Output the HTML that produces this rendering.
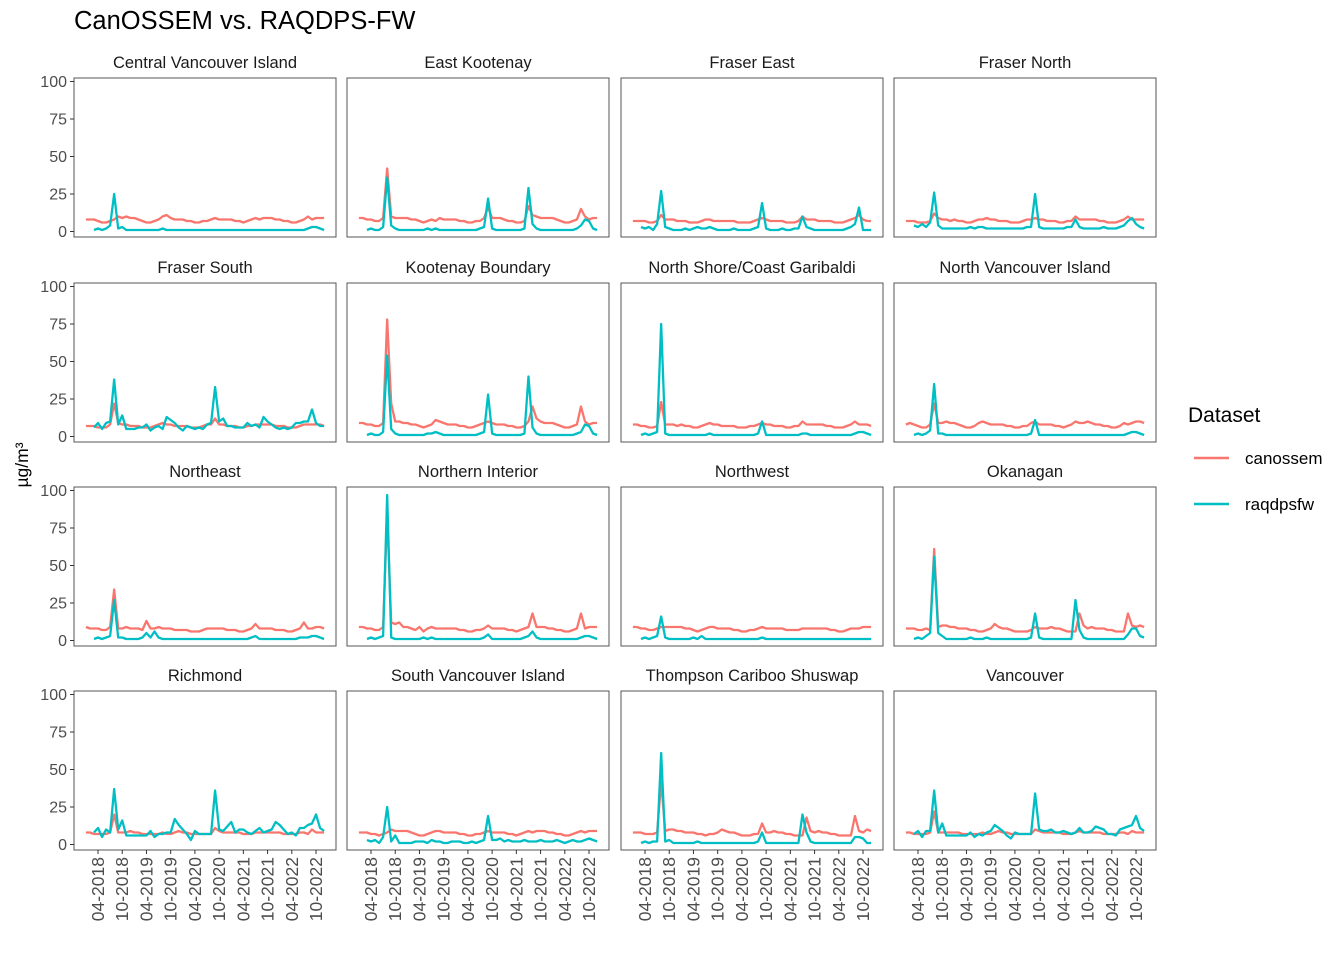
<!DOCTYPE html>
<html><head><meta charset="utf-8">
<style>
html,body{margin:0;padding:0;background:#fff;}
svg{display:block;font-family:"Liberation Sans",Arial,sans-serif;}
</style></head>
<body>
<svg id="chart" width="1344" height="960" viewBox="0 0 1344 960" xmlns="http://www.w3.org/2000/svg">
<rect x="0" y="0" width="1344" height="960" fill="#fff"/>
<text x="74" y="29" font-size="25.5" fill="#000">CanOSSEM vs. RAQDPS-FW</text>
<text transform="translate(28,465) rotate(-90)" text-anchor="middle" font-size="17.5" fill="#000">µg/m³</text>
<g>
<text x="1188" y="422" font-size="21" fill="#000">Dataset</text>
<g><line x1="1194" y1="458" x2="1229" y2="458" stroke="#F8766D" stroke-width="2.4"/><text x="1245" y="464" font-size="17" fill="#000">canossem</text></g>
<g><line x1="1194" y1="504" x2="1229" y2="504" stroke="#00BFC4" stroke-width="2.4"/><text x="1245" y="510" font-size="17" fill="#000">raqdpsfw</text></g>
</g>
<g id="panels"></g>
</svg>
<script>
const regions = ["Central Vancouver Island","East Kootenay","Fraser East","Fraser North","Fraser South","Kootenay Boundary","North Shore/Coast Garibaldi","North Vancouver Island","Northeast","Northern Interior","Northwest","Okanagan","Richmond","South Vancouver Island","Thompson Cariboo Shuswap","Vancouver"];
const yTicks = [0,25,50,75,100];
const xTickIndex = [3,9,15,21,27,33,39,45,51,57];
const xTickLabels = ["04-2018","10-2018","04-2019","10-2019","04-2020","10-2020","04-2021","10-2021","04-2022","10-2022"];
const N = 60;
const canossem = [
[8,8,8,7,6,6,7,8,10,9,10,9, 9,8,7,6,6,7,8,10,11,9,8,8, 8,7,7,6,6,7,7,8,9,8,8,8, 8,7,7,6,7,8,9,8,9,9,9,8, 8,7,7,6,6,7,8,10,8,9,9,9],
[9,9,8,8,7,7,9,42,10,9,9,9, 9,8,8,7,6,7,8,7,9,8,8,8, 8,7,7,6,6,7,7,9,16,9,9,9, 8,7,7,6,6,7,17,11,10,9,9,9, 9,8,7,6,6,7,8,15,10,8,9,9],
[7,7,7,7,6,6,7,11,8,8,8,7, 7,7,6,6,6,7,8,8,7,7,7,7, 7,7,6,6,6,6,7,8,9,8,7,7, 7,7,6,6,6,7,10,8,8,8,7,7, 7,7,6,6,6,7,8,9,11,8,7,7],
[7,7,7,6,6,6,7,12,9,8,8,7, 8,7,7,6,6,7,8,8,9,8,8,7, 7,7,6,6,6,7,8,8,9,8,8,7, 7,7,6,6,7,7,10,8,8,8,8,8, 7,7,6,6,6,7,8,10,8,8,8,8],
[7,7,7,6,6,6,8,22,9,8,8,7, 7,7,6,6,6,7,8,9,8,8,7,7, 7,7,6,6,6,7,8,8,12,8,8,7, 7,7,6,6,7,7,8,8,8,8,8,7, 7,7,6,6,6,7,8,8,8,8,8,7],
[9,9,8,8,7,7,9,78,22,10,10,9, 9,8,8,7,6,7,8,11,10,9,8,8, 8,7,7,6,6,7,8,9,10,9,8,8, 8,7,7,6,6,7,10,20,12,10,9,9, 9,8,7,6,6,7,8,20,10,8,9,9],
[8,8,7,7,6,6,7,23,8,8,8,7, 8,7,7,6,6,7,8,9,8,8,7,7, 7,7,6,6,6,7,7,8,9,8,8,7, 7,7,6,6,7,7,10,8,8,8,8,8, 7,7,6,6,6,7,8,10,8,8,8,7],
[8,9,8,7,6,6,8,22,9,9,10,9, 9,8,7,6,6,7,9,10,9,8,8,8, 8,7,7,6,6,7,7,9,10,8,8,8, 8,7,7,6,7,8,10,9,9,10,9,8, 8,7,7,6,6,7,9,8,9,10,10,9],
[9,8,8,8,7,7,9,34,8,8,9,8, 8,8,7,13,8,8,9,8,8,8,7,7, 7,7,6,6,6,7,8,8,8,8,8,7, 7,7,6,6,7,8,11,8,8,8,8,7, 7,7,6,6,7,8,12,8,8,9,9,8],
[9,9,8,8,7,7,9,85,12,11,12,9, 9,8,7,9,6,8,9,8,8,8,8,8, 8,7,7,6,6,7,7,8,10,8,8,8, 8,7,7,6,7,8,9,18,9,9,9,8, 8,7,7,6,6,7,8,18,8,9,9,9],
[9,9,8,8,7,7,8,9,9,9,9,9, 9,8,8,7,6,7,8,9,9,8,8,8, 8,7,7,6,6,7,7,8,9,8,8,8, 8,8,7,7,7,7,8,8,8,8,8,8, 8,7,7,6,6,7,8,8,8,9,9,9],
[8,8,8,7,7,8,7,61,9,10,10,9, 9,8,8,8,7,7,6,6,7,8,11,9, 8,8,7,6,6,6,6,7,9,8,8,8, 9,8,8,7,6,6,6,18,10,8,9,8, 8,8,7,7,6,6,6,18,10,9,10,9],
[8,8,7,7,7,7,8,20,8,8,8,9, 8,8,7,7,7,7,7,8,7,7,8,9, 8,8,7,7,7,7,7,7,11,9,8,8, 8,8,8,7,7,7,8,8,8,8,8,8, 8,7,7,7,7,8,8,7,10,8,8,8],
[8,8,8,7,7,6,7,8,10,9,9,9, 9,8,7,6,6,7,8,9,9,8,8,8, 8,7,7,6,6,7,7,8,9,8,8,8, 8,7,7,6,7,8,9,8,9,9,9,8, 8,7,7,6,6,7,8,9,8,9,9,9],
[8,8,8,7,7,7,8,42,9,10,10,9, 9,8,8,8,7,7,6,7,7,8,10,9, 8,8,7,6,6,6,7,7,14,8,8,9, 8,8,7,7,6,6,6,18,9,8,9,8, 8,7,7,6,6,6,6,19,9,8,10,9],
[8,8,7,7,7,7,8,22,8,8,8,8, 8,8,7,7,7,7,7,8,7,7,8,9, 8,8,7,7,7,7,7,7,10,9,8,8, 8,8,8,7,7,7,8,9,8,8,8,8, 8,7,7,7,7,8,8,7,9,8,8,8]
];
const raqdpsfw = [
[null,null,1,2,1,2,4,25,2,3,1,1, 1,1,1,1,1,1,1,2,1,1,1,1, 1,1,1,1,1,1,1,1,1,1,1,1, 1,1,1,1,1,1,1,1,1,1,1,1, 1,1,1,1,1,1,1,2,3,3,2,1],
[null,null,1,2,1,1,3,36,4,2,1,1, 1,1,1,1,1,2,1,2,1,1,1,1, 1,1,1,1,1,1,2,3,22,2,1,1, 1,1,1,1,1,2,29,5,2,1,1,1, 1,1,1,1,1,1,2,4,8,7,2,1],
[null,null,3,2,3,1,5,27,3,2,1,1, 1,2,1,2,3,2,2,3,2,1,1,1, 1,2,1,1,1,1,2,3,19,2,1,1, 1,2,1,1,2,2,10,3,2,1,1,1, 1,1,1,1,1,2,3,5,16,1,1,1],
[null,null,4,3,5,3,6,26,4,2,2,2, 2,2,2,2,3,2,3,3,2,2,2,2, 2,2,2,2,2,2,3,3,25,3,2,2, 2,2,2,2,3,3,8,3,2,2,2,2, 2,3,2,2,2,3,4,7,9,5,3,2],
[null,null,6,9,5,9,10,38,8,14,5,5, 5,6,6,8,4,6,7,5,13,11,9,6, 4,7,6,5,6,5,8,9,33,10,12,7, 7,6,6,6,9,7,8,6,13,10,8,6, 5,6,5,6,9,9,10,10,18,9,7,7],
[null,null,1,2,1,1,3,54,5,2,1,1, 1,1,1,1,1,2,2,3,2,1,1,1, 1,1,1,1,1,1,2,3,28,2,1,1, 1,1,1,1,1,2,40,6,2,1,1,1, 1,1,1,1,1,1,2,3,8,7,2,1],
[null,null,1,2,1,2,3,75,2,1,1,1, 1,1,1,1,1,1,1,2,1,1,1,1, 1,1,1,1,1,1,1,2,10,1,1,1, 1,1,1,1,1,1,2,2,1,1,1,1, 1,1,1,1,1,1,1,2,3,3,2,1],
[null,null,1,2,1,2,4,35,2,2,1,1, 1,1,1,1,1,1,1,1,1,1,1,1, 1,1,1,1,1,1,1,2,11,1,1,1, 1,1,1,1,1,1,1,1,1,1,1,1, 1,1,1,1,1,1,1,2,3,3,2,1],
[null,null,1,2,1,2,3,27,2,2,1,1, 1,1,2,5,2,6,2,1,1,1,1,1, 1,1,1,1,1,1,1,1,1,1,1,1, 1,1,1,1,1,2,3,1,1,1,1,1, 1,1,1,1,1,2,2,2,3,3,2,1],
[null,null,1,2,1,2,3,97,2,1,1,1, 1,1,1,1,2,1,2,1,1,1,1,1, 1,1,1,1,1,1,1,2,4,1,1,1, 1,1,1,1,1,2,3,6,2,1,1,1, 1,1,1,1,1,1,1,2,3,3,2,1],
[null,null,1,2,1,2,3,16,2,1,1,1, 1,1,1,2,1,3,1,1,1,1,1,1, 1,1,1,1,1,1,1,1,2,1,1,1, 1,1,1,1,1,1,1,1,1,1,1,1, 1,1,1,1,1,1,1,1,1,1,1,1],
[null,null,1,2,1,3,5,56,5,3,1,1, 1,1,1,1,2,1,1,1,2,1,1,1, 1,1,1,1,1,1,1,2,18,2,1,1, 1,1,1,1,1,1,27,7,2,1,1,1, 1,1,1,1,1,1,1,4,8,8,3,2],
[null,null,8,11,5,10,8,37,10,16,6,6, 6,6,6,6,9,5,7,7,8,8,17,13, 10,7,3,9,7,7,7,7,36,10,9,12, 15,8,10,10,8,7,9,11,8,9,10,15, 13,10,7,8,6,11,11,13,14,20,11,9],
[null,null,3,2,3,1,5,25,2,6,1,1, 1,1,2,2,2,1,3,2,2,1,1,2, 2,2,1,1,2,1,2,3,19,3,3,4, 2,3,2,2,2,3,2,2,2,3,2,2, 2,3,2,1,2,3,2,2,3,4,3,2],
[null,null,1,2,1,2,2,61,2,3,1,1, 1,1,1,1,2,1,1,1,1,1,1,1, 1,1,1,1,1,1,1,2,8,1,1,1, 1,1,1,1,1,1,20,8,2,1,1,1, 1,1,1,1,1,1,1,5,5,4,1,1],
[null,null,7,9,5,9,9,36,8,14,6,6, 6,6,6,6,8,5,7,6,8,9,13,11, 9,6,4,8,7,7,7,7,34,10,9,9, 10,8,8,9,8,7,8,11,8,8,9,12, 11,10,7,7,6,10,11,12,13,19,11,9]
];

const NS = "http://www.w3.org/2000/svg";
const colLeft = [74,347,621,894], rowTop = [78,283,487,691];
const PW = 262, PH = 159;
function xScale(left, i){ return left + 11.9 + i * (PW - 23.8) / (N - 1); }
function yScale(top, v){ return top + 153.5 - v * 1.5; }
function mk(tag, attrs, parent){ const e = document.createElementNS(NS, tag); for (const k in attrs) e.setAttribute(k, attrs[k]); parent.appendChild(e); return e; }
const root = document.getElementById('panels');
function pathFor(arr, left, top){
  let d = "", pen = false;
  arr.forEach((v,i)=>{ if (v === null) { pen = false; return; }
    d += (pen ? "L" : "M") + xScale(left,i).toFixed(2) + "," + yScale(top,v).toFixed(2); pen = true; });
  return d;
}
regions.forEach((name, p) => {
  const c = p % 4, r = Math.floor(p / 4);
  const L = colLeft[c], T = rowTop[r];
  const g = mk('g', {}, root);
  
  
  const st = mk('text', {x: L + PW/2, y: T - 10, 'text-anchor': 'middle', 'font-size': 16.5, fill: '#1a1a1a'}, g);
  st.textContent = name;
  
  
  const ln1 = mk('path', {d: pathFor(canossem[p], L, T), fill: 'none', stroke: '#F8766D', 'stroke-width': 2.3, 'stroke-linejoin': 'round'}, g);
  
  
  const ln2 = mk('path', {d: pathFor(raqdpsfw[p], L, T), fill: 'none', stroke: '#00BFC4', 'stroke-width': 2.3, 'stroke-linejoin': 'round'}, g);
  
  
  const fr = mk('rect', {x: L, y: T, width: PW, height: PH, fill: 'none', stroke: '#555', 'stroke-width': 1}, g);
  
  
  if (c === 0) {
    yTicks.forEach(t => {
      const y = yScale(T, t);
      const tk = mk('line', {x1: L - 4, x2: L, y1: y, y2: y, stroke: '#333', 'stroke-width': 1}, g);
      
      
      const tl = mk('text', {x: L - 7, y: y + 5.5, 'text-anchor': 'end', 'font-size': 16, fill: '#4d4d4d'}, g);
      tl.textContent = t;
      
      
    });
  }
  if (r === 3) {
    xTickIndex.forEach((idx, k) => {
      const x = xScale(L, idx);
      const tk = mk('line', {x1: x, x2: x, y1: T + PH, y2: T + PH + 4, stroke: '#333', 'stroke-width': 1}, g);
      
      
      const tl = mk('text', {transform: 'translate(' + (x + 6) + ',' + (T + PH + 7) + ') rotate(-90)', 'text-anchor': 'end', 'font-size': 17.5, fill: '#4d4d4d'}, g);
      tl.textContent = xTickLabels[k];
      
      
    });
  }
});
</script>
</body></html>
